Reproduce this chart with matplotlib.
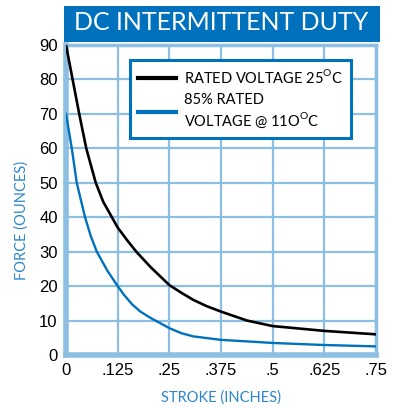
import matplotlib
matplotlib.use("Agg")
from matplotlib import pyplot as plt
from matplotlib.patches import Rectangle

# values
black_x = [0, .016, .032, .049, .072, .09, .111, .125, .15, .17, .204, .25, .28, .308, .34, .375, .438, .5, .625, .75]
black_y = [90, 80, 70, 60, 50, 44.5, 40, 37, 33, 30, 25.6, 20.3, 18, 16, 14.2, 12.6, 10, 8.4, 7.0, 6.0]
blue_x = [0, .014, .026, .046, .06, .0745, .1, .125, .14, .16, .18, .204, .25, .28, .308, .375, .5, .625, .75]
blue_y = [70, 60, 50, 40, 34.5, 30, 24.5, 20, 17.5, 14.7, 12.6, 10.8, 7.8, 6.3, 5.4, 4.4, 3.5, 2.9, 2.5]

x_ticks = [0, .125, .25, .375, .5, .625, .75]
x_labels = ['0', '.125', '.25', '.375', '.5', '.625', '.75']
y_ticks = [0, 10, 20, 30, 40, 50, 60, 70, 80, 90]

title = 'DC INTERMITTENT DUTY'
label_black = 'RATED VOLTAGE 25$^\\mathregular{O}$C'
label_blue = '85% RATED\nVOLTAGE @ 11O$^\\mathregular{O}$C'

dark_blue = '#0071bc'
grid_blue = '#8cbfe2'
text_font = 'Lato'

fig = plt.figure(figsize=(4.02, 4.08), dpi=100)
ax = fig.add_axes([66/402, 53/408, 310/402, 310/408])

ax.plot(black_x, black_y, color='black', lw=1.9, label=label_black, zorder=3)
ax.plot(blue_x, blue_y, color=dark_blue, lw=1.7, label=label_blue, zorder=3)

ax.set_xlim(0, .75)
ax.set_ylim(0, 90)
ax.set_xticks(x_ticks)
ax.set_xticklabels(x_labels)
ax.set_yticks(y_ticks)
ax.tick_params(length=0, labelsize=12, pad=6)
for t in ax.get_xticklabels() + ax.get_yticklabels():
    t.set_fontfamily('Liberation Sans')
ax.grid(True, color=grid_blue, lw=1.6)
ax.set_axisbelow(True)

for side in ['left', 'bottom']:
    ax.spines[side].set_color(grid_blue)
    ax.spines[side].set_linewidth(4)
for side in ['top', 'right']:
    ax.spines[side].set_color(grid_blue)
    ax.spines[side].set_linewidth(2.5)

ax.set_xlabel('STROKE (INCHES)', color='#2a86cc', fontsize=10.5, family=text_font)
ax.set_ylabel('FORCE (OUNCES)', color='#2a86cc', fontsize=10.5, family=text_font)
ax.xaxis.set_label_coords(0.5, -35/310)
ax.yaxis.set_label_coords(-37/310, 0.435)

leg = ax.legend(loc='upper left', bbox_to_anchor=(130/402, 1 - 60/408), bbox_transform=fig.transFigure,
                frameon=True, fancybox=False, edgecolor=dark_blue, handlelength=2.6,
                borderpad=0.55, borderaxespad=0, labelspacing=0.5, handletextpad=0.55,
                prop={'family': text_font, 'size': 10.5})
leg.get_frame().set_linewidth(2.2)
leg.get_frame().set_facecolor('white')
leg.get_frame().set_alpha(1)
for line in leg.get_lines():
    line.set_linewidth(3)

fig.patches.append(Rectangle((64/402, 1 - 42/408), 316/402, 36/408, transform=fig.transFigure,
                             facecolor=dark_blue, edgecolor='none', zorder=5))
fig.text(221/402, 1 - 23/408, title, color='white', fontsize=18, family=text_font,
         ha='center', va='center', zorder=6)

fig.savefig('out.png', dpi=100)
